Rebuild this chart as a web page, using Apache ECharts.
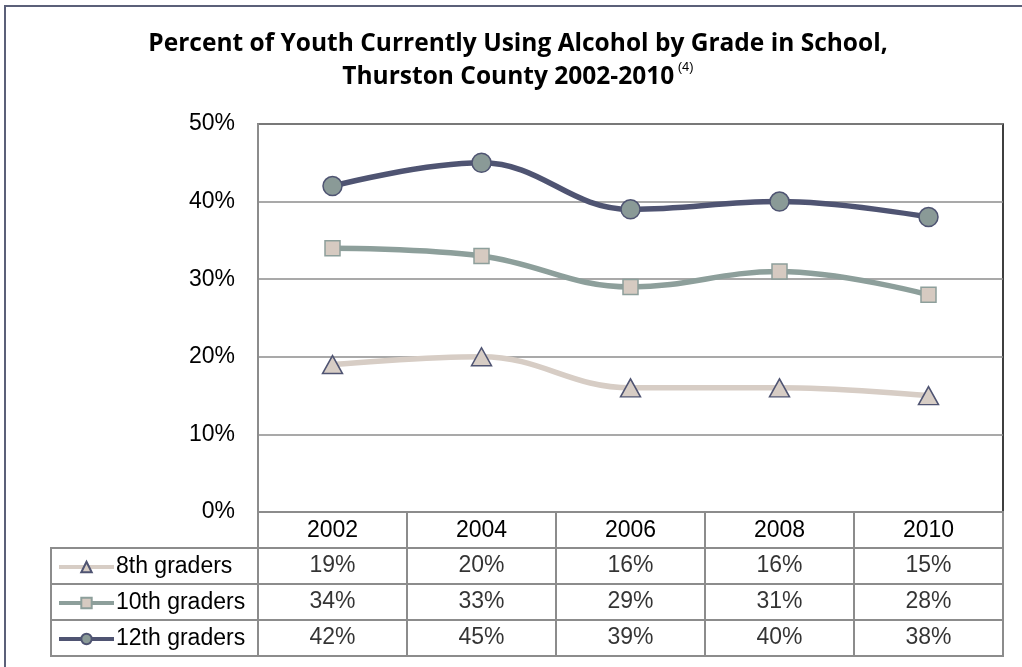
<!DOCTYPE html>
<html><head><meta charset="utf-8">
<script src="https://cdn.jsdelivr.net/npm/echarts@6/dist/echarts.min.js"></script>
<style>html,body{margin:0;padding:0;background:#fff}#c{width:1022px;height:667px}</style>
</head><body><div id="c"></div>
<script>
// ---- data ----
const years = ['2002', '2004', '2006', '2008', '2010'];
const seriesNames = ['8th graders', '10th graders', '12th graders'];
const grade8 = [19, 20, 16, 16, 15];
const grade10 = [34, 33, 29, 31, 28];
const grade12 = [42, 45, 39, 40, 38];
const yMin = 0, yMax = 50, yStep = 10;

const rows = [grade8, grade10, grade12];
const tableRows = ['header'].concat(seriesNames);

const cellData = [];
rows.forEach((vals, r) => vals.forEach((v, i) => cellData.push([years[i], seriesNames[r], v])));

const C12 = '#4f5472', C12f = '#8a9a97';
const C10 = '#8d9f9b', C10f = '#d6cac1';
const C8 = '#d7cdc5';
const GRID = '#8c8c8c';
const FONT = '"Liberation Sans", Arial, sans-serif';
const FS = 23;

const chart = echarts.init(document.getElementById('c'), null, {renderer: 'canvas'});
chart.setOption({
  backgroundColor: '#fff',
  animation: false,
  title: {
    left: 518, top: 28, padding: 0, textAlign: 'center',
    text: 'Percent of Youth Currently Using Alcohol by Grade in School,\nThurston County 2002-2010{sup| (4)}',
    textStyle: {
      fontFamily: '"Open Sans", sans-serif', fontWeight: 'bold', fontSize: 24.5, color: '#000', lineHeight: 33,
      rich: { sup: { fontFamily: FONT, fontSize: 13, fontWeight: 'normal', color: '#000', verticalAlign: 'top', lineHeight: 26 } }
    }
  },
  legend: {
    data: seriesNames,
    orient: 'vertical', left: 57, top: 555, padding: 0,
    itemWidth: 55, itemHeight: 13, itemGap: 12,
    lineStyle: { width: 4 },
    textStyle: { fontFamily: FONT, fontSize: FS, color: '#000', lineHeight: 24, padding: [0, 0, 0, -3] }
  },
  graphic: [{
    type: 'rect', shape: { x: 5, y: 6, width: 1100, height: 800 }, silent: true, z: -10,
    style: { fill: 'none', stroke: '#5b6079', lineWidth: 2 }
  }],
  grid: [
    { left: 258, right: 19, top: 124, bottom: 155, show: true, borderColor: '#000', borderWidth: 1.5, backgroundColor: 'transparent' },
    { left: 258, right: 19, top: 512, bottom: 11, show: true, borderColor: GRID, borderWidth: 2, backgroundColor: 'transparent' },
    { left: 51, width: 207, top: 548, bottom: 11, show: true, borderColor: GRID, borderWidth: 2, backgroundColor: 'transparent' }
  ],
  xAxis: [
    { gridIndex: 0, type: 'category', data: years, boundaryGap: true,
      axisLine: { lineStyle: { color: GRID, width: 2 } }, axisTick: { show: false },
      axisLabel: { fontFamily: FONT, fontSize: FS, color: '#000', margin: 7 }, splitLine: { show: false } },
    { gridIndex: 1, type: 'category', data: years, boundaryGap: true,
      axisLine: { show: false }, axisTick: { show: false }, axisLabel: { show: false },
      splitLine: { show: true, lineStyle: { color: GRID, width: 2 } } },
    { gridIndex: 2, type: 'value', show: false, min: 0, max: 1 }
  ],
  yAxis: [
    { gridIndex: 0, type: 'value', min: yMin, max: yMax, interval: yStep,
      axisLine: { show: true, lineStyle: { color: GRID, width: 2 } }, axisTick: { show: false },
      axisLabel: { formatter: '{value}%', fontFamily: FONT, fontSize: FS, color: '#000', margin: 23 },
      splitLine: { lineStyle: { color: GRID, width: 1.5 } } },
    { gridIndex: 1, type: 'category', data: tableRows, inverse: true, boundaryGap: true,
      axisLine: { show: false }, axisTick: { show: false }, axisLabel: { show: false },
      splitLine: { show: true, lineStyle: { color: GRID, width: 2 } } },
    { gridIndex: 2, type: 'category', data: seriesNames, inverse: true, boundaryGap: true,
      axisLine: { show: false }, axisTick: { show: false }, axisLabel: { show: false },
      splitLine: { show: true, lineStyle: { color: GRID, width: 2 } } }
  ],
  series: [
    { name: seriesNames[0], type: 'line', data: grade8, smooth: 0.4, z: 3,
      symbol: 'triangle', symbolSize: [20, 18],
      lineStyle: { color: C8, width: 5.5 },
      itemStyle: { color: C8, borderColor: C12, borderWidth: 1.5 } },
    { name: seriesNames[1], type: 'line', data: grade10, smooth: 0.4, z: 4,
      symbol: 'rect', symbolSize: 15,
      lineStyle: { color: C10, width: 5.5 },
      itemStyle: { color: C10f, borderColor: C10, borderWidth: 1.5 } },
    { name: seriesNames[2], type: 'line', data: grade12, smooth: 0.4, z: 5,
      symbol: 'circle', symbolSize: 19,
      lineStyle: { color: C12, width: 5.5 },
      itemStyle: { color: C12f, borderColor: C12, borderWidth: 1.5 } },
    { name: 'table', type: 'scatter', xAxisIndex: 1, yAxisIndex: 1, data: cellData,
      symbolSize: 0, silent: true,
      label: { show: true, position: 'inside', formatter: p => p.value[2] + '%',
        fontFamily: FONT, fontSize: FS, color: '#000' } }
  ]
});
</script></body></html>
